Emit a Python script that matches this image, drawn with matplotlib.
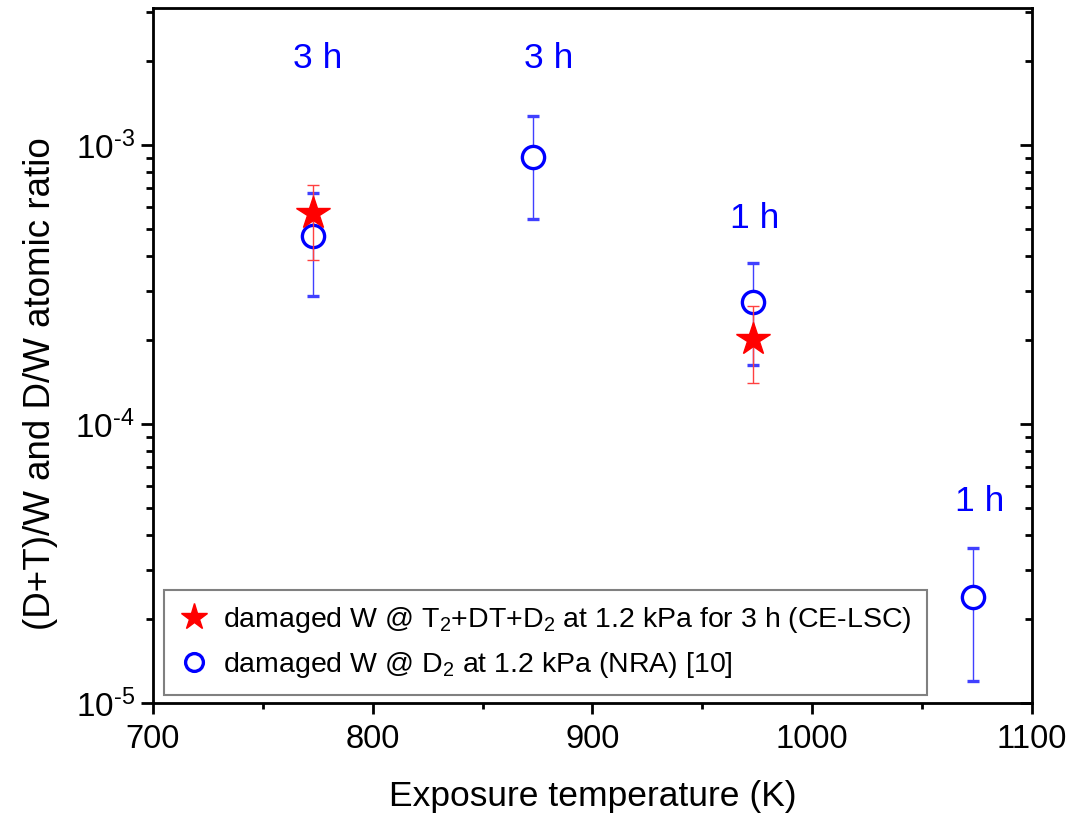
#!/usr/bin/env python3
import matplotlib
matplotlib.use('Agg')
import matplotlib.pyplot as plt
from matplotlib.ticker import FuncFormatter
import numpy as np

plt.rcParams['font.family'] = ['Liberation Sans', 'DejaVu Sans']
plt.rcParams['mathtext.fontset'] = 'custom'
plt.rcParams['mathtext.rm'] = 'Liberation Sans'
plt.rcParams['mathtext.it'] = 'Liberation Sans:italic'
plt.rcParams['axes.unicode_minus'] = False

# CE-LSC (T2+DT+D2, 3 h)
T_lsc = [773, 973]
R_lsc = [5.7e-4, 2.02e-4]
R_lsc_lo = [3.87e-4, 1.40e-4]
R_lsc_hi = [7.2e-4, 2.64e-4]

# NRA (D2)
T_nra = [773, 873, 973, 1073]
R_nra = [4.72e-4, 9.08e-4, 2.73e-4, 2.39e-5]
R_nra_lo = [2.87e-4, 5.43e-4, 1.63e-4, 1.20e-5]
R_nra_hi = [6.73e-4, 1.27e-3, 3.79e-4, 3.58e-5]

# exposure time labels
lab_text = ['3 h', '3 h', '1 h', '1 h']
lab_x = [775, 880, 974, 1076]
lab_y = [1.89e-3, 1.89e-3, 5.04e-4, 4.88e-5]

blue = '#0000ff'
red = '#ff0000'

fig = plt.figure(figsize=(10.72, 8.14), dpi=100)
ax = fig.add_axes([0.1427, 0.1364, 0.82, 0.8538])

def yerr(v, lo, hi):
    v, lo, hi = np.array(v), np.array(lo), np.array(hi)
    return [v - lo, hi - v]

h_nra = ax.errorbar(T_nra, R_nra, yerr=yerr(R_nra, R_nra_lo, R_nra_hi), fmt='o',
                    color=blue, mfc='white', mec=blue, mew=2.4, ms=16,
                    ecolor='#4040ff', elinewidth=1, capsize=4, capthick=1, zorder=3)
h_lsc = ax.errorbar(T_lsc, R_lsc, yerr=yerr(R_lsc, R_lsc_lo, R_lsc_hi), fmt='*',
                    color=red, mec=red, ms=25,
                    ecolor='#ff4040', elinewidth=1, capsize=4, capthick=1, zorder=4)

for t, x, y in zip(lab_text, lab_x, lab_y):
    ax.text(x, y, t, color=blue, fontsize=25.5, ha='center', va='baseline')

ax.set_yscale('log')
ax.set_xlim(700, 1100)
ax.set_ylim(1e-5, 3.1e-3)
ax.set_xticks([700, 800, 900, 1000, 1100])
ax.set_xticks([750, 850, 950, 1050], minor=True)

def decade(v, pos):
    e = int(round(np.log10(v)))
    return r'$\mathdefault{10^{\text{%d}}}$' % e

ax.yaxis.set_major_formatter(FuncFormatter(decade))

for s in ax.spines.values():
    s.set_linewidth(2)

ax.tick_params(axis='x', which='both', direction='out', top=False, labelsize=23.5, width=2, pad=7)
ax.tick_params(axis='x', which='major', length=8)
ax.tick_params(axis='x', which='minor', length=4)
ax.tick_params(axis='y', which='both', direction='out', right=False, labelsize=24, width=2, pad=4)
ax.tick_params(axis='y', which='major', length=9)
ax.tick_params(axis='y', which='minor', length=5)

ax2 = ax.twinx()
ax2.set_yscale('log')
ax2.set_ylim(ax.get_ylim())
ax2.tick_params(axis='y', which='both', direction='in', labelright=False, width=2)
ax2.tick_params(axis='y', which='major', length=9)
ax2.tick_params(axis='y', which='minor', length=5)

ax.set_xlabel('Exposure temperature (K)', fontsize=25.5, labelpad=18)
ax.set_ylabel('(D+T)/W and D/W atomic ratio', fontsize=26.5)
ax.yaxis.set_label_coords(-0.108, 0.46)

leg = ax.legend([h_lsc[0], h_nra[0]],
                ['damaged W @ T$_2$+DT+D$_2$ at 1.2 kPa for 3 h (CE-LSC)',
                 'damaged W @ D$_2$ at 1.2 kPa (NRA) [10]'],
                loc='lower left', bbox_to_anchor=(0.013, 0.011), borderaxespad=0,
                fontsize=20.5, fancybox=False, framealpha=1, edgecolor='#808080',
                handlelength=1.0, handletextpad=0.5, labelspacing=0.5,
                borderpad=0.55, markerscale=0.8)
leg.get_frame().set_linewidth(1.5)

fig.savefig('out.png', dpi=100)
